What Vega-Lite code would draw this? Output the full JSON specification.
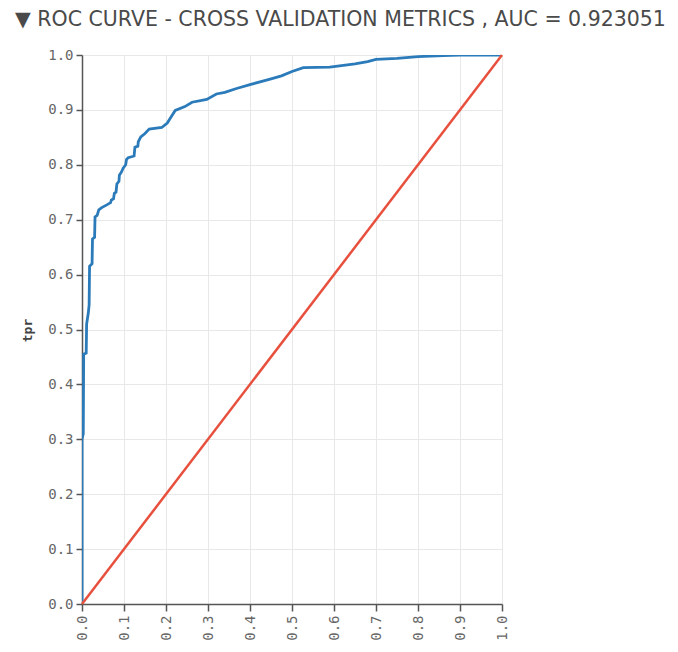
{
  "$schema": "https://vega.github.io/schema/vega-lite/v6.json",
  "width": 420,
  "height": 549,
  "autosize": {"type": "none"},
  "padding": {"left": 82, "top": 55, "right": 176, "bottom": 48},
  "background": "white",
  "title": {
    "text": "▼ ROC CURVE - CROSS VALIDATION METRICS , AUC = 0.923051",
    "anchor": "start",
    "frame": "group",
    "dx": -67,
    "offset": 18,
    "font": "DejaVu Sans",
    "fontSize": 20.5,
    "fontWeight": "normal",
    "color": "#4a4a4a"
  },
  "datasets": {
    "roc": [
      {"i": 0, "fpr": 0, "tpr": 0},
      {"i": 1, "fpr": 0, "tpr": 0.30},
      {"i": 2, "fpr": 0.003, "tpr": 0.31},
      {"i": 3, "fpr": 0.004, "tpr": 0.455},
      {"i": 4, "fpr": 0.010, "tpr": 0.457},
      {"i": 5, "fpr": 0.011, "tpr": 0.51},
      {"i": 6, "fpr": 0.015, "tpr": 0.53},
      {"i": 7, "fpr": 0.017, "tpr": 0.545},
      {"i": 8, "fpr": 0.018, "tpr": 0.615},
      {"i": 9, "fpr": 0.024, "tpr": 0.62},
      {"i": 10, "fpr": 0.025, "tpr": 0.665},
      {"i": 11, "fpr": 0.030, "tpr": 0.668},
      {"i": 12, "fpr": 0.031, "tpr": 0.705},
      {"i": 13, "fpr": 0.036, "tpr": 0.708},
      {"i": 14, "fpr": 0.040, "tpr": 0.718},
      {"i": 15, "fpr": 0.047, "tpr": 0.722},
      {"i": 16, "fpr": 0.059, "tpr": 0.727},
      {"i": 17, "fpr": 0.068, "tpr": 0.731},
      {"i": 18, "fpr": 0.070, "tpr": 0.736},
      {"i": 19, "fpr": 0.075, "tpr": 0.738},
      {"i": 20, "fpr": 0.077, "tpr": 0.748},
      {"i": 21, "fpr": 0.081, "tpr": 0.750},
      {"i": 22, "fpr": 0.083, "tpr": 0.765},
      {"i": 23, "fpr": 0.088, "tpr": 0.770},
      {"i": 24, "fpr": 0.089, "tpr": 0.781},
      {"i": 25, "fpr": 0.094, "tpr": 0.787},
      {"i": 26, "fpr": 0.098, "tpr": 0.794},
      {"i": 27, "fpr": 0.104, "tpr": 0.800},
      {"i": 28, "fpr": 0.106, "tpr": 0.810},
      {"i": 29, "fpr": 0.110, "tpr": 0.813},
      {"i": 30, "fpr": 0.124, "tpr": 0.816},
      {"i": 31, "fpr": 0.126, "tpr": 0.832},
      {"i": 32, "fpr": 0.133, "tpr": 0.834},
      {"i": 33, "fpr": 0.134, "tpr": 0.842},
      {"i": 34, "fpr": 0.140, "tpr": 0.851},
      {"i": 35, "fpr": 0.150, "tpr": 0.857},
      {"i": 36, "fpr": 0.160, "tpr": 0.865},
      {"i": 37, "fpr": 0.190, "tpr": 0.868},
      {"i": 38, "fpr": 0.203, "tpr": 0.876},
      {"i": 39, "fpr": 0.212, "tpr": 0.887},
      {"i": 40, "fpr": 0.222, "tpr": 0.899},
      {"i": 41, "fpr": 0.245, "tpr": 0.906},
      {"i": 42, "fpr": 0.262, "tpr": 0.914},
      {"i": 43, "fpr": 0.297, "tpr": 0.919},
      {"i": 44, "fpr": 0.320, "tpr": 0.929},
      {"i": 45, "fpr": 0.340, "tpr": 0.932},
      {"i": 46, "fpr": 0.368, "tpr": 0.939},
      {"i": 47, "fpr": 0.400, "tpr": 0.946},
      {"i": 48, "fpr": 0.448, "tpr": 0.956},
      {"i": 49, "fpr": 0.475, "tpr": 0.962},
      {"i": 50, "fpr": 0.500, "tpr": 0.970},
      {"i": 51, "fpr": 0.527, "tpr": 0.977},
      {"i": 52, "fpr": 0.590, "tpr": 0.978},
      {"i": 53, "fpr": 0.650, "tpr": 0.984},
      {"i": 54, "fpr": 0.680, "tpr": 0.988},
      {"i": 55, "fpr": 0.700, "tpr": 0.992},
      {"i": 56, "fpr": 0.750, "tpr": 0.994},
      {"i": 57, "fpr": 0.800, "tpr": 0.997},
      {"i": 58, "fpr": 0.860, "tpr": 0.999},
      {"i": 59, "fpr": 0.900, "tpr": 1.0},
      {"i": 60, "fpr": 1.0, "tpr": 1.0}
    ],
    "diag": [
      {"i": 0, "fpr": 0, "tpr": 0},
      {"i": 1, "fpr": 1, "tpr": 1}
    ]
  },
  "encoding": {
    "x": {
      "field": "fpr",
      "type": "quantitative",
      "scale": {"domain": [0, 1], "nice": false, "zero": false},
      "axis": {
        "title": null,
        "values": [0, 0.1, 0.2, 0.3, 0.4, 0.5, 0.6, 0.7, 0.8, 0.9, 1.0],
        "format": ".1f",
        "labelAngle": -90,
        "labelAlign": "right",
        "labelBaseline": "middle",
        "labelPadding": 4,
        "tickSize": 7
      }
    },
    "y": {
      "field": "tpr",
      "type": "quantitative",
      "scale": {"domain": [0, 1], "nice": false, "zero": false},
      "axis": {
        "title": "tpr",
        "values": [0, 0.1, 0.2, 0.3, 0.4, 0.5, 0.6, 0.7, 0.8, 0.9, 1.0],
        "format": ".1f",
        "labelPadding": 3,
        "tickSize": 6,
        "titleFont": "DejaVu Sans Mono",
        "titleFontWeight": "bold",
        "titleFontSize": 13,
        "titleColor": "#444444",
        "titleAngle": -90,
        "titleX": -55,
        "titleY": 275,
        "titleAlign": "center",
        "titleBaseline": "middle"
      }
    },
    "order": {"field": "i", "type": "quantitative"}
  },
  "layer": [
    {
      "data": {"name": "roc"},
      "mark": {"type": "line", "color": "#2b7bba", "strokeWidth": 2.8, "clip": true}
    },
    {
      "data": {"name": "diag"},
      "mark": {"type": "line", "color": "#e8503e", "strokeWidth": 2.5}
    }
  ],
  "config": {
    "view": {"stroke": null},
    "axis": {
      "labelFont": "DejaVu Sans Mono",
      "labelFontSize": 14,
      "labelColor": "#666666",
      "domainColor": "#555555",
      "domainWidth": 1.5,
      "tickColor": "#555555",
      "tickWidth": 1.5,
      "gridColor": "#e8e8e8",
      "gridWidth": 1
    }
  }
}
